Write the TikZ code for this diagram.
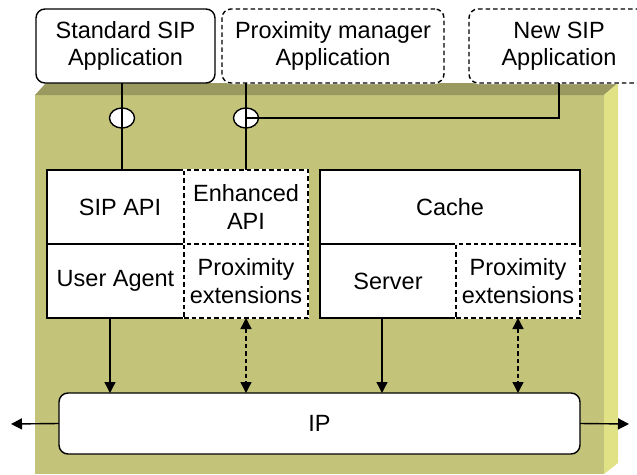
\documentclass[tikz,border=0pt]{standalone}
\usepackage{fontspec}
\setmainfont{Liberation Sans}
\usetikzlibrary{arrows.meta,shapes.geometric}

\definecolor{boxfront}{RGB}{195,195,122}
\definecolor{boxtop}{RGB}{153,153,96}
\definecolor{boxside}{RGB}{225,225,133}

\tikzset{
  lbl/.style={font=\fontsize{23.5}{27.5}\selectfont, align=center},
  solidbox/.style={lbl, draw, fill=white, line width=1.4pt, inner sep=0pt, outer sep=0pt},
  dashbox/.style={solidbox, dash pattern=on 4.5pt off 3pt,
    preaction={draw=white, solid, line width=2pt}},
  appbox/.style={solidbox, rounded corners=9pt},
  appdash/.style={dashbox, rounded corners=9pt},
  iface/.style={ellipse, draw, fill=white, line width=1.4pt, minimum width=25pt, minimum height=20pt, inner sep=0pt},
  wire/.style={line width=1.4pt},
  arr/.style={line width=1.4pt, -{Triangle[length=11pt,width=11pt]}},
  darr/.style={line width=1.4pt, dash pattern=on 4.5pt off 3pt,
    {Triangle[length=11pt,width=11pt]}-{Triangle[length=11pt,width=11pt]}}
}

\begin{document}
\begin{tikzpicture}[x=1pt,y=-1pt]
\useasboundingbox (0,0) rectangle (637,474);
\clip (0,0) rectangle (637,474);

% 3D platform
\fill[boxfront] (35,95) rectangle (604,474);
\fill[boxtop] (35,95) -- (46,83) -- (618,83) -- (604,95) -- cycle;
\fill[boxside] (604,95) -- (618,83) -- (618,463) -- (604,474) -- cycle;

% applications
\node[appbox, minimum width=179pt, minimum height=74pt] (std) at (125.5,46) {Standard SIP\\Application};
\node[appdash, minimum width=222pt, minimum height=74pt] (pm) at (333,46) {Proximity manager\\Application};
\node[appdash, minimum width=180pt, minimum height=74pt] (nsip) at (559,46) {New SIP\\Application};

% left stack
\node[solidbox, minimum width=137pt, minimum height=74pt] (sipapi) at (115.5,207) {\hspace*{9pt}SIP API};
\node[solidbox, minimum width=137pt, minimum height=74pt] (ua) at (115.5,281) {User Agent};
\node[dashbox, minimum width=124pt, minimum height=74pt] (eapi) at (246,207) {Enhanced\\API};
\node[dashbox, minimum width=124pt, minimum height=74pt] (pext1) at (246,281) {Proximity\\extensions};

% right stack
\node[solidbox, minimum width=260pt, minimum height=74pt] (cache) at (450,207) {Cache};
\node[solidbox, minimum width=136pt, minimum height=74pt] (srv) at (388,281) {Server};
\node[dashbox, minimum width=124pt, minimum height=74pt] (pext2) at (518,281) {Proximity\\extensions};

% network layer
\node[appbox, minimum width=521pt, minimum height=61pt] (ip) at (319.5,423.5) {IP};

% interfaces
\node[iface] (o1) at (122,118) {};
\node[iface] (o2) at (246,118) {};

\draw[wire] (o1 |- std.south) -- (o1 |- sipapi.north);
\draw[wire] (o2 |- pm.south) -- (o2 |- eapi.north);
\draw[wire] (o2.center) -- (o2 -| nsip.south) -- (nsip.south);

% links to IP
\coordinate (c1) at (110,0);
\coordinate (c2) at (382,0);
\draw[arr] (ua.south -| c1) -- (ip.north -| c1);
\draw[darr] (pext1.south) -- (ip.north -| pext1.south);
\draw[arr] (srv.south -| c2) -- (ip.north -| c2);
\draw[darr] (pext2.south) -- (ip.north -| pext2.south);

\coordinate (wl) at (11,424);
\coordinate (wr) at (629,424);
\draw[arr] (ip.west) -- (wl);
\draw[arr] (ip.east) -- (wr);
\end{tikzpicture}
\end{document}
